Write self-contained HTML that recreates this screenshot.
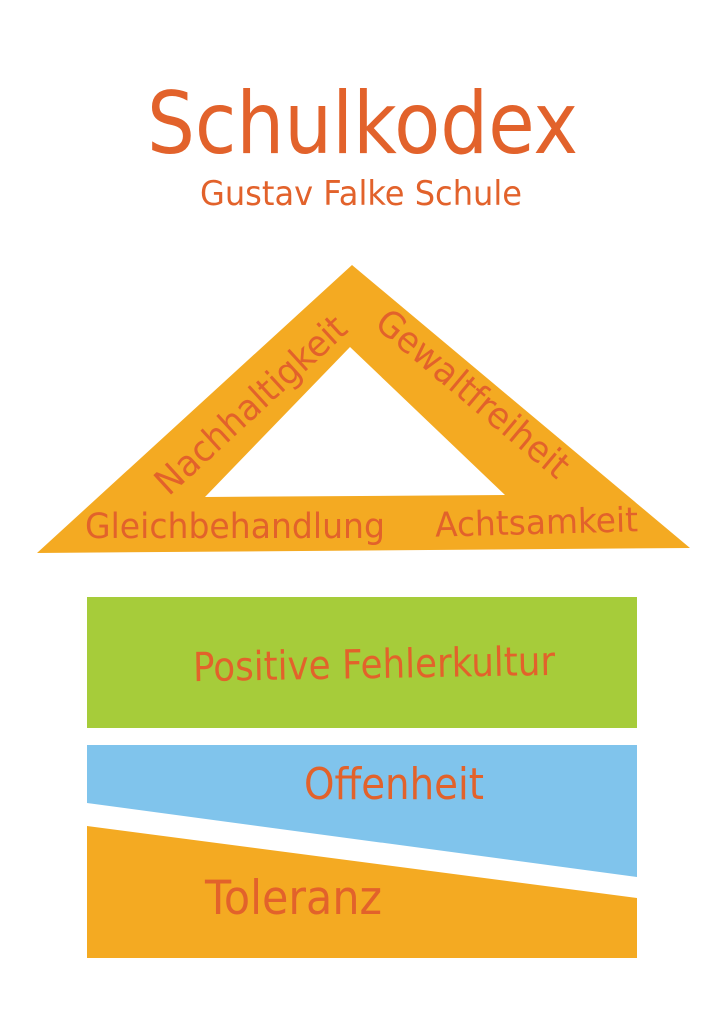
<!DOCTYPE html>
<html><head><meta charset="utf-8"><style>html,body{margin:0;padding:0;background:#fff}svg{display:block}</style></head>
<body>
<svg width="724" height="1024" viewBox="0 0 724 1024" xmlns="http://www.w3.org/2000/svg" font-family="'DejaVu Sans','Liberation Sans',sans-serif" fill="#e2622b">
<rect width="724" height="1024" fill="#fff"/>
<text x="147" y="153" font-size="86" textLength="431" lengthAdjust="spacingAndGlyphs">Schulkodex</text>
<text x="200" y="205" font-size="34" textLength="322" lengthAdjust="spacingAndGlyphs">Gustav Falke Schule</text>
<path d="M352 265 L690 548 L37 553 Z M350 347 L205 497 L505 495 Z" fill="#f4aa22" fill-rule="evenodd"/>
<text x="85" y="538" font-size="35" textLength="300" lengthAdjust="spacingAndGlyphs">Gleichbehandlung</text>
<text x="435" y="534" font-size="34" textLength="203" lengthAdjust="spacingAndGlyphs" transform="rotate(-1.5 536 523)">Achtsamkeit</text>
<text x="0" y="0" font-size="36" textLength="245" lengthAdjust="spacingAndGlyphs" text-anchor="middle" transform="translate(259 414) rotate(-42.5)">Nachhaltigkeit</text>
<text x="0" y="0" font-size="36" textLength="240" lengthAdjust="spacingAndGlyphs" text-anchor="middle" transform="translate(465 403) rotate(40)">Gewaltfreiheit</text>
<rect x="87" y="597" width="550" height="131" fill="#a6cc3a"/>
<text x="193" y="678" font-size="40" textLength="362" lengthAdjust="spacingAndGlyphs" transform="rotate(-1 374 662)">Positive Fehlerkultur</text>
<path d="M87 745 L637 745 L637 877 L87 803 Z" fill="#80c4ec"/>
<text x="304" y="799" font-size="44" textLength="180" lengthAdjust="spacingAndGlyphs">Offenheit</text>
<path d="M87 826 L637 898 L637 958 L87 958 Z" fill="#f4aa22"/>
<text x="205" y="914" font-size="47" textLength="177" lengthAdjust="spacingAndGlyphs">Toleranz</text>
</svg>
</body></html>
